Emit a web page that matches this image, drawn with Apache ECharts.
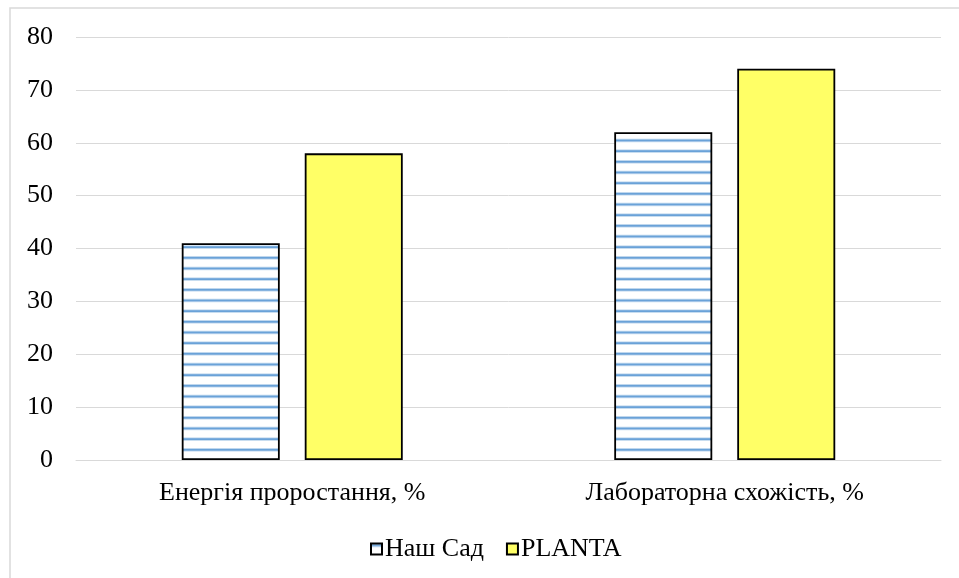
<!DOCTYPE html>
<html>
<head>
<meta charset="utf-8">
<script src="https://cdn.jsdelivr.net/npm/echarts@6/dist/echarts.min.js"></script>
<style>
html,body{margin:0;padding:0;background:#fff;}
#chart{width:959px;height:578px;}
</style>
</head>
<body>
<div id="chart"></div>
<script>
const categories = ['Енергія проростання, %', 'Лабораторна схожість, %'];
const seriesNames = ['Наш Сад', 'PLANTA'];
const nashSad = [41, 62];
const planta = [58, 74];
const yTicks = [0, 10, 20, 30, 40, 50, 60, 70, 80];

function stripePattern() {
  const c = document.createElement('canvas');
  c.width = 8; c.height = 32;
  const ctx = c.getContext('2d');
  ctx.fillStyle = '#ffffff';
  ctx.fillRect(0, 0, 8, 32);
  const starts = [0, 10.67, 21.33];
  starts.forEach(function (s) {
    ctx.fillStyle = '#c9ddf1';
    ctx.fillRect(0, s, 8, 3.6);
    ctx.fillStyle = '#6aa2d8';
    ctx.fillRect(0, s + 0.9, 8, 1.8);
  });
  return c;
}

const FONT = 'Liberation Serif';
const chart = echarts.init(document.getElementById('chart'), null, {renderer: 'canvas'});
chart.setOption({
  animation: false,
  backgroundColor: '#ffffff',
  graphic: [{
    type: 'rect',
    shape: {x: 10, y: 8, width: 960, height: 590},
    style: {fill: 'none', stroke: '#d9d9d9', lineWidth: 1.5},
    silent: true, z: -10
  }],
  grid: {left: 76, right: 18, top: 37, bottom: 118, containLabel: false},
  legend: {
    data: seriesNames,
    bottom: 11,
    left: 365,
    icon: 'rect',
    itemWidth: 11,
    itemHeight: 11,
    itemGap: 22,
    textStyle: {fontFamily: FONT, fontSize: 26, color: '#000', padding: [0, 0, 0, -2]}
  },
  xAxis: {
    type: 'category',
    data: categories,
    axisLine: {lineStyle: {color: '#d9d9d9', width: 1}},
    axisTick: {show: false},
    axisLabel: {fontFamily: FONT, fontSize: 26, color: '#000', margin: 20}
  },
  yAxis: {
    type: 'value',
    min: yTicks[0],
    max: yTicks[yTicks.length - 1],
    interval: 10,
    axisLine: {show: false},
    axisTick: {show: false},
    splitLine: {lineStyle: {color: '#d9d9d9', width: 1}},
    axisLabel: {fontFamily: FONT, fontSize: 26, color: '#000', margin: 23}
  },
  series: [
    {
      name: seriesNames[0],
      type: 'bar',
      data: nashSad,
      barWidth: 98,
      barGap: '25.5%',
      itemStyle: {
        color: {image: stripePattern(), repeat: 'repeat'},
        borderColor: '#000',
        borderWidth: 1.8
      }
    },
    {
      name: seriesNames[1],
      type: 'bar',
      data: planta,
      barWidth: 98,
      barGap: '25.5%',
      itemStyle: {
        color: '#ffff66',
        borderColor: '#000',
        borderWidth: 1.8
      }
    }
  ]
});
</script>
</body>
</html>
